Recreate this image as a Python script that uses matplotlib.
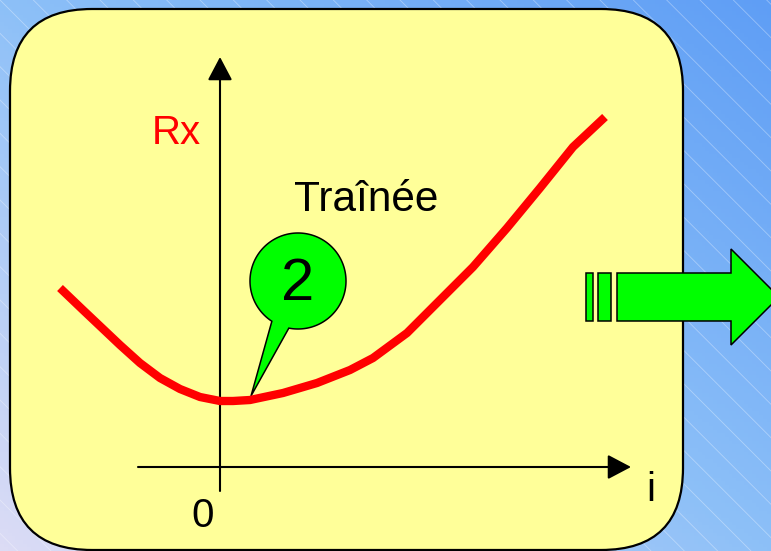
import numpy as np
import matplotlib
matplotlib.use("Agg")
import matplotlib.pyplot as plt
from matplotlib.colors import LinearSegmentedColormap
from matplotlib.patches import FancyBboxPatch, Polygon, Rectangle

# drag curve Rx(i) (chart units, origin at the axes cross)
incidence = [-4.0, -3.425, -2.5, -2.0, -1.5, -1.0, -0.5, 0.0,
             0.325, 0.75, 1.575, 2.425, 3.25, 3.825, 4.675, 5.5, 6.325,
             7.175, 8.0, 8.825, 9.625]
drag = [4.475, 3.925, 3.05, 2.6, 2.225, 1.95, 1.75, 1.65,
        1.65, 1.675, 1.85, 2.1, 2.425, 2.725, 3.35, 4.175, 5.0,
        5.975, 6.975, 8.0, 8.75]

y_label = "Rx"
x_label = "i"
origin_label = "0"
curve_label = "Traînée"
callout_label = "2"

W, H = 771, 551
plt.rcParams["font.family"] = ["Liberation Sans", "DejaVu Sans"]
plt.rcParams["hatch.linewidth"] = 0.6

fig = plt.figure(figsize=(W / 100, H / 100), dpi=100)

# background layer, pixel coordinates
bg = fig.add_axes([0, 0, 1, 1])
bg.set_xlim(0, W)
bg.set_ylim(H, 0)
bg.axis("off")

xx, yy = np.meshgrid(np.linspace(0, 1, 200), np.linspace(0, 1, 150))
t = (xx + (1 - yy)) / 2
cmap = LinearSegmentedColormap.from_list(
    "bg", ["#dcdcf5", "#8dc0f8", "#5f9ef5"])
bg.imshow(t, cmap=cmap, extent=(0, W, 0, H), origin="lower", aspect="auto",
          zorder=0)
bg.set_ylim(H, 0)
bg.add_patch(Rectangle((0, 0), W, H, fill=False, hatch="\\",
                       edgecolor=(1, 1, 1, 0.35), linewidth=0, zorder=1))

box = FancyBboxPatch((10, 9), 673, 541,
                     boxstyle="round,pad=0,rounding_size=82",
                     facecolor="#ffff99", edgecolor="black", linewidth=1.6,
                     zorder=2)
bg.add_patch(box)

# callout bubble around the "2"
cx, cy, r = 298, 281, 48
a1 = np.deg2rad(123)
a2 = np.deg2rad(101 + 360)
ang = np.linspace(a1, a2, 200)
pts = np.column_stack([cx + r * np.cos(ang), cy + r * np.sin(ang)])
pts = np.vstack([pts, [251, 396]])
bg.add_patch(Polygon(pts, closed=True, facecolor="#00ff00",
                     edgecolor="black", linewidth=1.1, zorder=5))
bg.text(cx, 285, callout_label, fontsize=43, ha="center", va="center",
        color="black", zorder=6)

# big green arrow on the right
arrow_pts = [(617, 273), (731, 273), (731, 249), (779, 297),
             (731, 345), (731, 321), (617, 321)]
bg.add_patch(Polygon(arrow_pts, closed=True, facecolor="#00ff00",
                     edgecolor="black", linewidth=1.1, zorder=5,
                     clip_on=True))
for x0, w in [(586, 7), (598, 13)]:
    bg.add_patch(Rectangle((x0, 273), w, 48, facecolor="#00ff00",
                           edgecolor="black", linewidth=1.1, zorder=5))

# chart layer: 40 px per unit, origin at pixel (220, 467)
ax = fig.add_axes([0, 0, 1, 1])
ax.patch.set_alpha(0)
ax.axis("off")
ax.set_xlim(-220 / 40, (W - 220) / 40)
ax.set_ylim(-(H - 467) / 40, 467 / 40)

arrow_kw = dict(arrowstyle="-|>,head_length=0.72,head_width=0.38",
                mutation_scale=20, lw=1.5, color="black",
                shrinkA=0, shrinkB=0)
ax.annotate("", xy=(10.275, 0), xytext=(-2.05, 0), arrowprops=arrow_kw,
            zorder=3)
ax.annotate("", xy=(0, 10.25), xytext=(0, -0.6), arrowprops=arrow_kw,
            zorder=3)

ax.plot(incidence, drag, color="#ff0000", linewidth=6.0,
        solid_capstyle="butt", solid_joinstyle="round", zorder=4)

ax.text(-1.1, 8.35, y_label, color="#ff0000", fontsize=29,
        ha="center", va="center")
ax.text(3.65, 6.675, curve_label, color="black", fontsize=30.5,
        ha="center", va="center")
ax.text(-0.425, -1.225, origin_label, color="black", fontsize=29,
        ha="center", va="center")
ax.text(10.775, -0.575, x_label, color="black", fontsize=29,
        ha="center", va="center")

fig.savefig("out.png", dpi=100)
